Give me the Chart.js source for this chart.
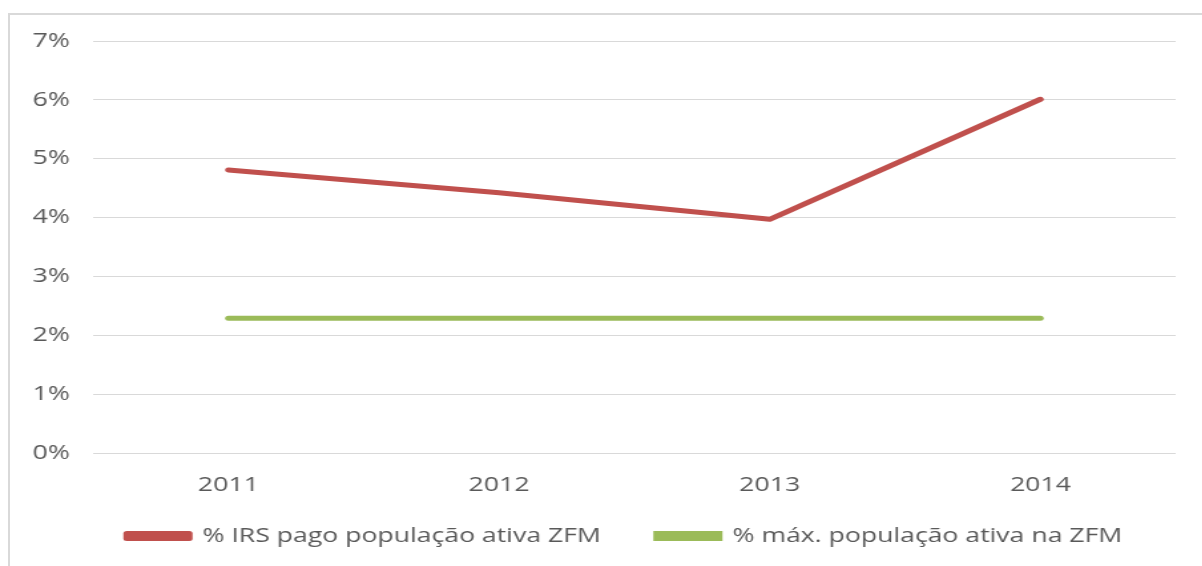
<!DOCTYPE html>
<html>
<head>
<meta charset="utf-8">
<script src="https://cdn.jsdelivr.net/npm/chart.js@4.4.1/dist/chart.umd.min.js"></script>
<style>
  html, body { margin: 0; padding: 0; background: #fff; }
  #wrap { position: relative; width: 1202px; height: 566px; overflow: hidden; }
  /* the reference is horizontally stretched, so the canvas is drawn narrower and scaled in x */
  #irsChart { position: absolute; left: 0; top: 0; transform: scaleX(1.33); transform-origin: 0 0; }
  #frame { position: absolute; left: 8px; top: 13px; width: 1300px; height: 600px;
           border-left: 2px solid #d9d9d9; border-top: 2px solid #d9d9d9; pointer-events: none; }
</style>
</head>
<body>
<div id="wrap">
  <canvas id="irsChart" width="904" height="566"></canvas>
  <div id="frame"></div>
</div>
<script>
    // Data
    const years = ['2011', '2012', '2013', '2014'];
    const irsPago = [4.81, 4.42, 3.97, 6.01];
    const maxPopAtiva = [2.29, 2.29, 2.29, 2.29];
    const yTicks = [0, 1, 2, 3, 4, 5, 6, 7];
    const seriesNames = ['% IRS pago população ativa ZFM', '% máx. população ativa na ZFM'];

    const textColor = '#595959';
    const fontFamily = "'Open Sans', 'Liberation Sans', sans-serif";

    // legend keeps its wide item gap but takes less height, and sits a bit higher / to the right
    const legendTweak = {
        id: 'legendTweak',
        afterInit(chart) {
            const legend = chart.legend;
            const origFit = legend.fit;
            legend.fit = function () {
                origFit.call(this);
                if (this.isHorizontal()) this.height -= 23;
            };
        },
        afterLayout(chart) {
            const legend = chart.legend;
            legend.top -= 33;
            legend.left += 24;
            legend.right += 24;
        }
    };

    const ctx = document.getElementById('irsChart').getContext('2d');

    const myChart = new Chart(ctx, {
        type: 'line',
        data: {
            labels: years,
            datasets: [{
                label: seriesNames[0],
                data: irsPago,
                borderColor: '#c0504d',
                backgroundColor: '#c0504d',
                borderWidth: 5,
                borderCapStyle: 'round',
                borderJoinStyle: 'round',
                pointRadius: 0,
                tension: 0,
                fill: false
            }, {
                label: seriesNames[1],
                data: maxPopAtiva,
                borderColor: '#9bbb59',
                backgroundColor: '#9bbb59',
                borderWidth: 5,
                borderCapStyle: 'round',
                pointRadius: 0,
                tension: 0,
                fill: false
            }]
        },
        options: {
            responsive: false,
            animation: false,
            layout: {
                padding: { left: 7, right: 20, top: 41, bottom: 0 }
            },
            plugins: {
                legend: {
                    position: 'bottom',
                    labels: {
                        boxWidth: 47,
                        boxHeight: 5,
                        padding: 42,
                        color: textColor,
                        font: { family: fontFamily, size: 20 }
                    }
                },
                tooltip: { enabled: false }
            },
            scales: {
                y: {
                    min: yTicks[0],
                    max: yTicks[yTicks.length - 1],
                    afterBuildTicks: (axis) => { axis.ticks = yTicks.map(v => ({ value: v })); },
                    ticks: {
                        padding: 17.5,
                        color: textColor,
                        font: { family: fontFamily, size: 20 },
                        callback: (v) => v + '%'
                    },
                    grid: { color: '#d9d9d9', lineWidth: 1, drawTicks: false },
                    border: { display: false }
                },
                x: {
                    offset: true,
                    ticks: {
                        padding: 20,
                        color: textColor,
                        font: { family: fontFamily, size: 20 }
                    },
                    grid: { display: false, drawTicks: false },
                    border: { display: false }
                }
            }
        },
        plugins: [legendTweak]
    });
</script>
</body>
</html>
